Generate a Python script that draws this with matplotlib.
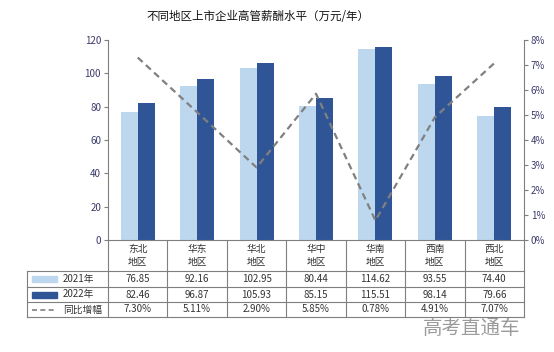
import numpy as np
import matplotlib
matplotlib.use("Agg")
import matplotlib.pyplot as plt
from matplotlib.transforms import blended_transform_factory
from matplotlib.lines import Line2D
from matplotlib.patches import Rectangle

plt.rcParams["font.family"] = ["Noto Sans CJK SC", "DejaVu Sans"]

regions = ["东北\n地区", "华东\n地区", "华北\n地区", "华中\n地区", "华南\n地区", "西南\n地区", "西北\n地区"]
pay_2021 = [76.85, 92.16, 102.95, 80.44, 114.62, 93.55, 74.40]
pay_2022 = [82.46, 96.87, 105.93, 85.15, 115.51, 98.14, 79.66]
growth = [7.30, 5.11, 2.90, 5.85, 0.78, 4.91, 7.07]
left_ticks = [0, 20, 40, 60, 80, 100, 120]
right_ticks = [0, 1, 2, 3, 4, 5, 6, 7, 8]

c21 = "#BDD7EE"
c22 = "#2F5597"
cline = "#808080"
grid_c = "#7F7F7F"
txt_c = "#333333"

W, H = 554, 352
fig = plt.figure(figsize=(W / 100, H / 100), dpi=100)
ax = fig.add_axes([108 / W, (H - 240) / H, (524 - 108) / W, 200 / H])

x = np.arange(len(regions))
bw = 0.286
ax.bar(x - bw / 2, pay_2021, bw, color=c21, zorder=2)
ax.bar(x + bw / 2, pay_2022, bw, color=c22, zorder=2)
ax.set_xlim(-0.5, len(regions) - 0.5)
ax.set_ylim(0, 120)
ax.set_yticks(left_ticks)
ax.set_yticklabels([str(v) for v in left_ticks])
ax.set_xticks([])
for s in ["top", "right"]:
    ax.spines[s].set_visible(False)
ax.spines["left"].set_color(grid_c)
ax.spines["bottom"].set_color(grid_c)
ax.tick_params(axis="y", colors=grid_c, labelcolor="#3A3A6A", labelsize=7, length=3, width=0.8, pad=2)

ax2 = ax.twinx()
ax2.plot(x, growth, color=cline, lw=1.6, ls=(0, (3, 2)), zorder=3)
ax2.set_ylim(0, 8)
ax2.set_yticks(right_ticks)
ax2.set_yticklabels([f"{v}%" for v in right_ticks])
for s in ["top", "left", "bottom"]:
    ax2.spines[s].set_visible(False)
ax2.spines["right"].set_color(grid_c)
ax2.tick_params(axis="y", colors=grid_c, labelcolor="#3A3A6A", labelsize=7, length=3, width=0.8, pad=2)

fig.text(258 / W, 1 - 16 / H, "不同地区上市企业高管薪酬水平（万元/年）", ha="center", va="center",
         fontsize=8.3, color="#111111")

# data table under the chart
tr = blended_transform_factory(ax.transData, ax.transAxes)
row_y = [0, -0.155, -0.235, -0.31, -0.385]
leg_left = (27 - 108) / 416 * len(regions) - 0.5

def hline(x0, x1, y):
    ax.add_line(Line2D([x0, x1], [y, y], transform=tr, color=grid_c, lw=0.8, clip_on=False))

def vline(xx, y0, y1):
    ax.add_line(Line2D([xx, xx], [y0, y1], transform=tr, color=grid_c, lw=0.8, clip_on=False))

for y in row_y[1:]:
    hline(leg_left, len(regions) - 0.5, y)
for i in range(len(regions) + 1):
    vline(i - 0.5, row_y[0], row_y[-1])
vline(leg_left, row_y[1], row_y[-1])

fs = 7
rows = [[f"{v:.2f}" for v in pay_2021],
        [f"{v:.2f}" for v in pay_2022],
        [f"{v:.2f}%" for v in growth]]
for i, name in enumerate(regions):
    ax.text(i, (row_y[0] + row_y[1]) / 2, name, transform=tr, ha="center", va="center",
            fontsize=fs, color=txt_c, linespacing=1.3)
    for r in range(3):
        ax.text(i, (row_y[r + 1] + row_y[r + 2]) / 2, rows[r][i], transform=tr,
                ha="center", va="center", fontsize=fs, color=txt_c)

labels = ["2021年", "2022年", "同比增幅"]
sym_x0 = leg_left + 5 / 416 * 7
sym_x1 = leg_left + 30 / 416 * 7
lab_x = leg_left + 36 / 416 * 7
for r, lab in enumerate(labels):
    yc = (row_y[r + 1] + row_y[r + 2]) / 2
    if r < 2:
        ax.add_patch(Rectangle((sym_x0, yc - 0.015), sym_x1 - sym_x0, 0.03, transform=tr,
                               color=[c21, c22][r], clip_on=False))
    else:
        ax.add_line(Line2D([sym_x0, sym_x1], [yc, yc], transform=tr, color=cline, lw=1.2,
                           ls=(0, (3, 2)), clip_on=False))
    ax.text(lab_x, yc, lab, transform=tr, ha="left", va="center", fontsize=fs, color=txt_c)

# watermark
fig.text(472 / W, 1 - 328 / H, "高考直通车", ha="center", va="center", fontsize=14,
         color="#8A8A8A", alpha=0.85)

fig.savefig("out.png", dpi=100)
